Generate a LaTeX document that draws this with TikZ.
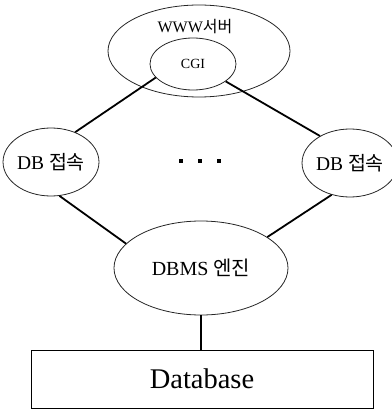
\documentclass[tikz,border=0pt]{standalone}
\usepackage{fontspec}
\setmainfont{Liberation Serif}
\newfontfamily\kr{Noto Sans CJK KR}
\usetikzlibrary{shapes.geometric}
\begin{document}
\begin{tikzpicture}[x=1pt,y=-1pt,
  oval/.style={draw=black!85,line width=0.8pt,ellipse,inner sep=0pt},
  conn/.style={draw=black,line width=1.8pt},
  dotsq/.style={fill=black,minimum size=4pt,inner sep=0pt}]
\useasboundingbox (0,0) rectangle (391,409);
% outer WWW server ellipse
\node[oval,minimum width=182pt,minimum height=92pt] (www) at (199,51) {};
\node[font=\fontsize{16}{18}\selectfont,inner sep=0pt] (wwwlabel) at (195,27) {WWW{\kr 서버}};
\node[oval,minimum width=86pt,minimum height=52pt,font=\fontsize{14}{16}\selectfont] (cgi) at (193,64) {CGI};
% DB connection ellipses
\node[oval,minimum width=88pt,minimum height=68pt,font=\fontsize{19.5}{21}\selectfont] (dbl) at (51,162) {DB {\kr 접속}};
\node[oval,minimum width=86pt,minimum height=68pt,font=\fontsize{19.5}{21}\selectfont] (dbr) at (350,163) {DB {\kr 접속}};
% DBMS engine
\node[oval,minimum width=174pt,minimum height=94pt,font=\fontsize{20}{22}\selectfont] (dbms) at (201,268) {DBMS {\kr 엔진}};
% Database box
\node[draw=black,line width=1pt,minimum width=342pt,minimum height=58pt,inner sep=0pt,font=\fontsize{28.5}{30}\selectfont] (db) at (202,379) {Database};
% dots
\node[dotsq] (d1) at (181,161) {};
\node[dotsq] (d2) at (200,161) {};
\node[dotsq] (d3) at (219,161) {};
% connectors
\draw[conn] (cgi.200) -- (dbl.51);
\draw[conn] (cgi.332) -- (dbr.138);
\draw[conn] (dbl.-76) -- (dbms.162);
\draw[conn] (dbr.240) -- (dbms.25);
\draw[line width=1.4pt] (dbms.south) -- (dbms.south |- db.north);
\end{tikzpicture}
\end{document}
